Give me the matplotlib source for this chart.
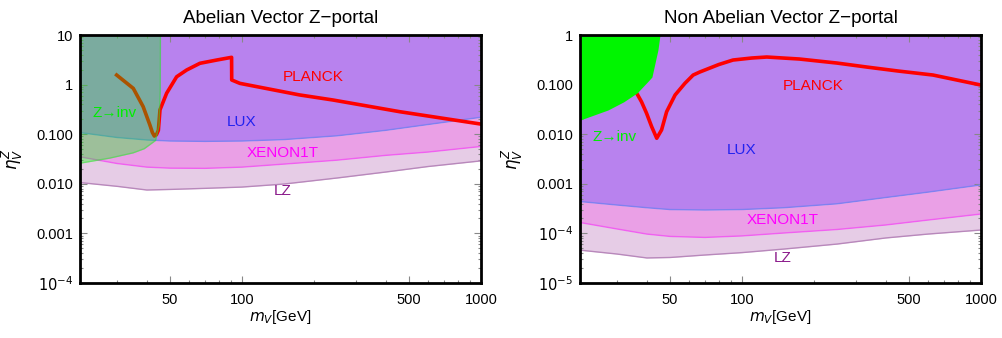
import numpy as np
import matplotlib.pyplot as plt
from matplotlib.ticker import FixedLocator, FixedFormatter, LogLocator, NullFormatter

plt.rcParams['font.family'] = ['Liberation Sans', 'DejaVu Sans']

# masses where the direct detection bands were read (GeV)
m_dd = [21, 30, 40, 50, 70, 100, 150, 250, 400, 600, 1000]

# Abelian panel
lux_ab = [0.108, 0.086, 0.0766, 0.073, 0.0717, 0.073, 0.078, 0.093, 0.12, 0.157, 0.22]
xenon_ab = [0.035, 0.0257, 0.0217, 0.0207, 0.0205, 0.0217, 0.025, 0.030, 0.0375, 0.0437, 0.0566]
lz_ab = [0.0106, 0.0089, 0.0075, 0.0077, 0.0081, 0.0086, 0.0099, 0.0131, 0.0173, 0.0223, 0.029]

planck_ab_m = [29.9, 35.1, 38.6, 41.2, 42.2, 43.0, 43.9, 44.7, 45.4, 48.4, 53.3, 58.7, 66.7,
               78.4, 90.5, 90.6, 98, 174, 240, 458, 1000]
planck_ab = [1.56, 0.84, 0.36, 0.153, 0.108, 0.092, 0.098, 0.12, 0.31, 0.67, 1.44, 1.97, 2.69,
             3.13, 3.55, 1.24, 1.06, 0.62, 0.49, 0.284, 0.16]

zinv_ab_m = [21, 28, 35, 39, 43.5, 45, 45.5, 45.6]
zinv_ab = [0.026, 0.033, 0.042, 0.051, 0.075, 0.15, 0.8, 10]

# Non Abelian panel
lux_na = [4.4e-4, 3.74e-4, 3.3e-4, 3.03e-4, 2.97e-4, 3.03e-4, 3.3e-4, 3.96e-4, 5.3e-4, 6.8e-4, 9.5e-4]
xenon_na = [1.66e-4, 1.23e-4, 9.7e-5, 8.7e-5, 8.3e-5, 8.9e-5, 1.02e-4, 1.2e-4, 1.48e-4, 1.86e-4, 2.46e-4]
lz_na = [4.6e-5, 3.84e-5, 3.2e-5, 3.27e-5, 3.67e-5, 4.1e-5, 4.84e-5, 6.1e-5, 8.1e-5, 9.7e-5, 1.17e-4]

planck_na_m = [36.3, 38.0, 39.9, 41.9, 44.0, 46.1, 48.4, 52.5, 57.7, 62.5, 66.7, 80, 91.7, 110,
               127, 174, 250, 333, 450, 630, 1000]
planck_na = [0.0668, 0.045, 0.0264, 0.0142, 0.0083, 0.0122, 0.0284, 0.0617, 0.106, 0.156, 0.18,
             0.254, 0.313, 0.344, 0.36, 0.328, 0.272, 0.226, 0.188, 0.156, 0.098]

zinv_na_m = [21, 27.5, 32, 36.4, 40, 42, 44.5, 45.4]
zinv_na = [0.0193, 0.0308, 0.045, 0.068, 0.11, 0.142, 0.5, 1.0]

xticks = [50, 100, 500, 1000]
xticklabels = ['50', '100', '500', '1000']
yticks_ab = [1e-4, 1e-3, 1e-2, 1e-1, 1, 10]
ylabels_ab = ['$10^{-4}$', '0.001', '0.010', '0.100', '1', '10']
yticks_na = [1e-5, 1e-4, 1e-3, 1e-2, 1e-1, 1]
ylabels_na = ['$10^{-5}$', '$10^{-4}$', '0.001', '0.010', '0.100', '1']

c_lux = '#b882ee'
c_xenon = '#eaa0e6'
c_lz = '#e6cce6'

fig = plt.figure(figsize=(10.02, 3.38), dpi=100)
ax1 = fig.add_axes([0.0798, 0.1627, 0.4002, 0.7337])
ax2 = fig.add_axes([0.5788, 0.1627, 0.4002, 0.7337])


def bands(ax, lux, xenon, lz, ytop):
    ax.fill_between(m_dd, lux, ytop, color=c_lux, lw=0, zorder=1)
    ax.fill_between(m_dd, xenon, lux, color=c_xenon, lw=0, zorder=1)
    ax.fill_between(m_dd, lz, xenon, color=c_lz, lw=0, zorder=1)
    ax.plot(m_dd, lux, color='#8080f0', lw=1, zorder=2)
    ax.plot(m_dd, xenon, color='#f060f0', lw=1, zorder=2)
    ax.plot(m_dd, lz, color='#b888bb', lw=1, zorder=2)


def style(ax, yt, yl, ylim):
    ax.set_xscale('log')
    ax.set_yscale('log')
    ax.set_xlim(21, 1000)
    ax.set_ylim(*ylim)
    ax.xaxis.set_major_locator(FixedLocator(xticks))
    ax.xaxis.set_major_formatter(FixedFormatter(xticklabels))
    ax.xaxis.set_minor_locator(LogLocator(base=10, subs=np.arange(2, 10)))
    ax.xaxis.set_minor_formatter(NullFormatter())
    ax.yaxis.set_major_locator(FixedLocator(yt))
    ax.yaxis.set_major_formatter(FixedFormatter(yl))
    ax.yaxis.set_minor_locator(LogLocator(base=10, subs=np.arange(2, 10), numticks=20))
    ax.yaxis.set_minor_formatter(NullFormatter())
    ax.tick_params(which='both', direction='in', top=True, right=True, color='#888888',
                   labelsize=10.5, width=0.8)
    ax.tick_params(which='major', length=5)
    ax.tick_params(which='minor', length=2.5)
    ax.tick_params(axis='x', pad=7)
    ax.tick_params(axis='y', pad=5)
    for s in ax.spines.values():
        s.set_linewidth(2)
        s.set_zorder(10)
    ax.set_xlabel('$m_V$[GeV]', fontsize=11)
    ax.xaxis.set_label_coords(0.5, -0.1)
    ax.set_ylabel('$\\eta_V^Z$', fontsize=12)
    ax.yaxis.set_label_coords(-0.137, 0.5)


# left panel
bands(ax1, lux_ab, xenon_ab, lz_ab, 10)
ax1.plot(planck_ab_m, planck_ab, color='red', lw=2.6, zorder=3)
ax1.fill_between(zinv_ab_m, zinv_ab, 10, color='#00ff00', alpha=0.33, lw=0, zorder=5)
ax1.plot(zinv_ab_m, zinv_ab, color='#30e030', alpha=0.45, lw=1, zorder=5)
style(ax1, yticks_ab, ylabels_ab, (1e-4, 10))
ax1.set_title('Abelian Vector Z\u2212portal', fontsize=13.5, pad=9)
ax1.text(198, 1.42, 'PLANCK', color='red', fontsize=11, ha='center', va='center', zorder=6)
ax1.text(100, 0.176, 'LUX', color='#2222ee', fontsize=11, ha='center', va='center', zorder=6)
ax1.text(148, 0.0418, 'XENON1T', color='#ff00ff', fontsize=11, ha='center', va='center', zorder=6)
ax1.text(148, 0.0072, 'LZ', color='#8b1a8b', fontsize=11, ha='center', va='center', zorder=6)
ax1.text(29.4, 0.267, 'Z\u2192inv', color='#00ee00', fontsize=11, ha='center', va='center', zorder=6)

# right panel
bands(ax2, lux_na, xenon_na, lz_na, 1)
ax2.plot(planck_na_m, planck_na, color='red', lw=2.6, zorder=3)
ax2.fill_between(zinv_na_m, zinv_na, 1, color='#00f500', lw=0, zorder=5)
style(ax2, yticks_na, ylabels_na, (1e-5, 1))
ax2.set_title('Non Abelian Vector Z\u2212portal', fontsize=13.5, pad=9)
ax2.text(198, 0.094, 'PLANCK', color='red', fontsize=11, ha='center', va='center', zorder=6)
ax2.text(100, 0.0048, 'LUX', color='#2222ee', fontsize=11, ha='center', va='center', zorder=6)
ax2.text(148, 1.86e-4, 'XENON1T', color='#ff00ff', fontsize=11, ha='center', va='center', zorder=6)
ax2.text(148, 3.19e-5, 'LZ', color='#8b1a8b', fontsize=11, ha='center', va='center', zorder=6)
ax2.text(29.4, 0.0088, 'Z\u2192inv', color='#00ee00', fontsize=11, ha='center', va='center', zorder=6)

fig.savefig('out.png', dpi=100)
